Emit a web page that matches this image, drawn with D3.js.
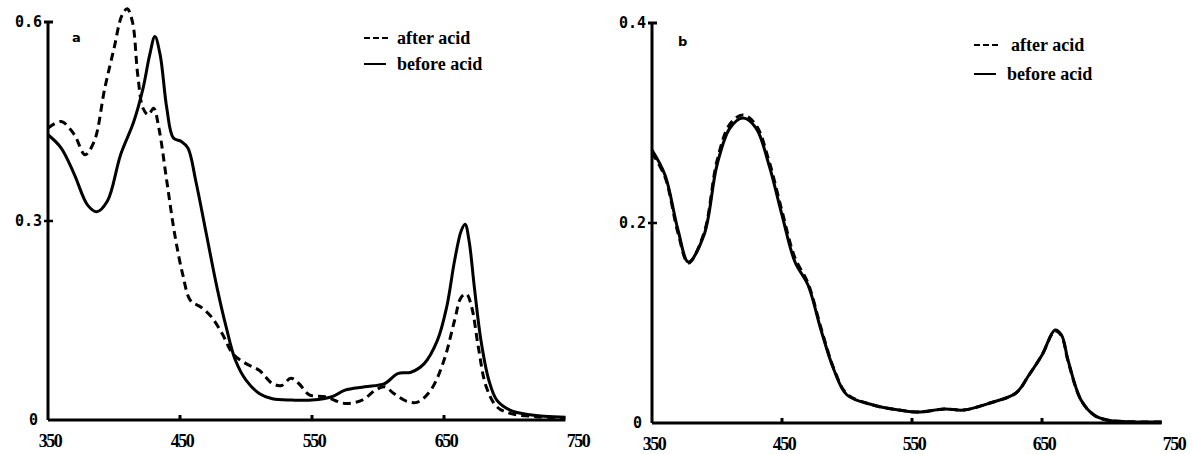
<!DOCTYPE html>
<html lang="en">
<head>
    <meta charset="UTF-8">
    <title>Absorption spectra before / after acid</title>
    <script src="https://d3js.org/d3.v7.min.js"></script>
    <style>
        body { margin: 0; background: #fff; }
        path.curve { fill: none; stroke: #000; stroke-width: 3; stroke-linejoin: round; }
        .dashed { stroke-dasharray: 8, 5; }
        .axis path, .axis line { stroke: #000; }
        .xlab { font-family: "Liberation Serif", serif; font-weight: bold; font-size: 18px; letter-spacing: -1.5px; text-anchor: middle; }
        .ylab { font-family: "DejaVu Sans Mono", monospace; font-weight: bold; font-size: 15px; text-anchor: end; }
        .legend { font-family: "Liberation Serif", serif; font-weight: bold; font-size: 18px; }
        .panel { font-family: "DejaVu Sans", sans-serif; font-weight: bold; font-size: 13px; }
    </style>
</head>
<body>

<div id="chart"></div>

<script>
    // panel a
    const aBeforeWl = [350, 360, 370, 380, 387, 395, 405, 415, 422, 427, 431, 435, 440, 445, 451, 456, 462, 470, 478, 485, 492, 500, 510, 520, 535, 550, 565, 575, 590, 605, 615, 625, 635, 645, 652, 658, 663, 666, 669, 673, 678, 684, 690, 700, 715, 742];
    const aBefore = [0.43, 0.41, 0.37, 0.324, 0.314, 0.33, 0.40, 0.45, 0.50, 0.55, 0.578, 0.55, 0.47, 0.425, 0.42, 0.41, 0.36, 0.28, 0.20, 0.14, 0.09, 0.06, 0.04, 0.032, 0.03, 0.03, 0.035, 0.045, 0.05, 0.055, 0.07, 0.072, 0.085, 0.12, 0.17, 0.24, 0.285, 0.295, 0.27, 0.20, 0.12, 0.06, 0.03, 0.015, 0.008, 0.004];

    const aAfterWl = [350, 360, 370, 378, 385, 393, 400, 406, 410, 414, 418, 422, 426, 430, 434, 440, 446, 452, 458, 466, 474, 482, 490, 500, 510, 520, 527, 534, 540, 548, 560, 575, 588, 598, 605, 612, 622, 630, 640, 650, 658, 663, 667, 671, 676, 682, 690, 700, 720, 742];
    const aAfter = [0.44, 0.45, 0.43, 0.40, 0.42, 0.50, 0.56, 0.61, 0.62, 0.60, 0.52, 0.47, 0.46, 0.47, 0.44, 0.36, 0.28, 0.22, 0.18, 0.17, 0.155, 0.13, 0.10, 0.085, 0.075, 0.055, 0.052, 0.063, 0.055, 0.038, 0.035, 0.025, 0.03, 0.045, 0.05, 0.04, 0.028, 0.027, 0.045, 0.09, 0.15, 0.185, 0.19, 0.17, 0.11, 0.05, 0.02, 0.01, 0.005, 0.003];

    // panel b
    const bBeforeWl = [350, 360, 370, 378, 390, 400, 410, 420, 430, 440, 450, 460, 470, 480, 490, 500, 520, 540, 555, 575, 590, 610, 630, 640, 650, 660, 665, 670, 680, 690, 700, 742];
    const bBefore = [0.273, 0.248, 0.193, 0.161, 0.188, 0.258, 0.295, 0.305, 0.295, 0.258, 0.208, 0.161, 0.138, 0.093, 0.053, 0.028, 0.018, 0.013, 0.011, 0.014, 0.013, 0.020, 0.030, 0.048, 0.068, 0.093, 0.088, 0.063, 0.023, 0.008, 0.003, 0.001];

    const bAfterWl = [350, 360, 370, 378, 390, 400, 410, 420, 430, 440, 450, 460, 470, 480, 490, 500, 520, 540, 555, 575, 590, 610, 630, 640, 650, 660, 665, 670, 680, 690, 700, 742];
    const bAfter = [0.270, 0.246, 0.190, 0.160, 0.190, 0.262, 0.299, 0.308, 0.298, 0.262, 0.212, 0.165, 0.140, 0.095, 0.054, 0.029, 0.018, 0.013, 0.011, 0.014, 0.013, 0.020, 0.030, 0.048, 0.068, 0.092, 0.087, 0.062, 0.023, 0.008, 0.003, 0.001];

    const xTicks = [350, 450, 550, 650, 750];
    const aYTicks = [0, 0.3, 0.6];
    const bYTicks = [0, 0.2, 0.4];
    const legendLabels = ["after acid", "before acid"];

    const svg = d3.select("#chart").append("svg")
        .attr("width", 1193)
        .attr("height", 454);

    function drawPanel(opt) {
        const g = svg.append("g");

        const x = d3.scaleLinear().domain([350, 750]).range(opt.xRange);
        const y = d3.scaleLinear().domain([0, opt.yMax]).range(opt.yRange);

        const line = d3.line()
            .x(d => x(d[0]))
            .y(d => y(d[1]))
            .curve(d3.curveCatmullRom.alpha(0.5));

        // x axis (ends a bit short of 750 like the original)
        const xAxis = g.append("g").attr("class", "axis")
            .attr("transform", "translate(0," + opt.yRange[0] + ")");
        xAxis.append("line")
            .attr("x1", x(350)).attr("x2", x(742))
            .attr("stroke-width", 3);
        xAxis.selectAll(".tick").data(xTicks.slice(1, 4)).enter().append("line")
            .attr("x1", d => x(d)).attr("x2", d => x(d))
            .attr("y1", 0).attr("y2", -5)
            .attr("stroke-width", 3);
        g.selectAll(".xlab").data(xTicks).enter().append("text")
            .attr("class", "xlab")
            .attr("x", d => x(d) + 2)
            .attr("y", opt.yRange[0] + 27)
            .text(d => d);

        // y axis
        const yAxis = g.append("g").attr("class", "axis")
            .attr("transform", "translate(" + opt.xRange[0] + ",0)");
        yAxis.append("line")
            .attr("y1", y(0)).attr("y2", y(opt.yMax))
            .attr("stroke-width", 3);
        yAxis.selectAll(".tick").data(opt.yTicks.slice(1)).enter().append("line")
            .attr("x1", -4).attr("x2", 5)
            .attr("y1", d => y(d)).attr("y2", d => y(d))
            .attr("stroke-width", d => d === opt.yMax ? 3 : 2.5);
        g.selectAll(".ylab").data(opt.yTicks).enter().append("text")
            .attr("class", "ylab")
            .attr("x", d => opt.xRange[0] - (d === 0 ? 10 : 6))
            .attr("y", d => y(d) + 5)
            .text(d => d === 0 ? "0" : d3.format(".1f")(d));

        // curves
        g.append("path").attr("class", "curve")
            .attr("d", line(d3.zip(opt.beforeWl, opt.before)));
        g.append("path").attr("class", "curve dashed")
            .attr("d", line(d3.zip(opt.afterWl, opt.after)));

        // panel letter
        g.append("text").attr("class", "panel")
            .attr("x", opt.letterPos[0]).attr("y", opt.letterPos[1])
            .text(opt.letter);

        // legend
        const lg = g.append("g").attr("transform", "translate(" + opt.legendPos[0] + "," + opt.legendPos[1] + ")");
        lg.append("line").attr("x1", 0).attr("x2", 27).attr("y1", 0).attr("y2", 0)
            .attr("stroke", "#000").attr("stroke-width", 2).attr("stroke-dasharray", "6,3");
        lg.append("line").attr("x1", 0).attr("x2", 22).attr("y1", opt.legendGap).attr("y2", opt.legendGap)
            .attr("stroke", "#000").attr("stroke-width", 2);
        lg.selectAll("text").data(legendLabels).enter().append("text")
            .attr("class", "legend")
            .attr("x", (d, i) => i === 0 ? opt.legendText[0] : opt.legendText[1])
            .attr("y", (d, i) => i * opt.legendGap + 6)
            .text(d => d);
    }

    drawPanel({
        xRange: [48, 576], yRange: [420, 22], yMax: 0.6, yTicks: aYTicks,
        beforeWl: aBeforeWl, before: aBefore, afterWl: aAfterWl, after: aAfter,
        letter: "a", letterPos: [72, 42],
        legendPos: [364, 38], legendGap: 26, legendText: [33, 33]
    });

    drawPanel({
        xRange: [652, 1172], yRange: [423, 23], yMax: 0.4, yTicks: bYTicks,
        beforeWl: bBeforeWl, before: bBefore, afterWl: bAfterWl, after: bAfter,
        letter: "b", letterPos: [678, 46],
        legendPos: [974, 45], legendGap: 29, legendText: [37, 33]
    });
</script>

</body>
</html>
